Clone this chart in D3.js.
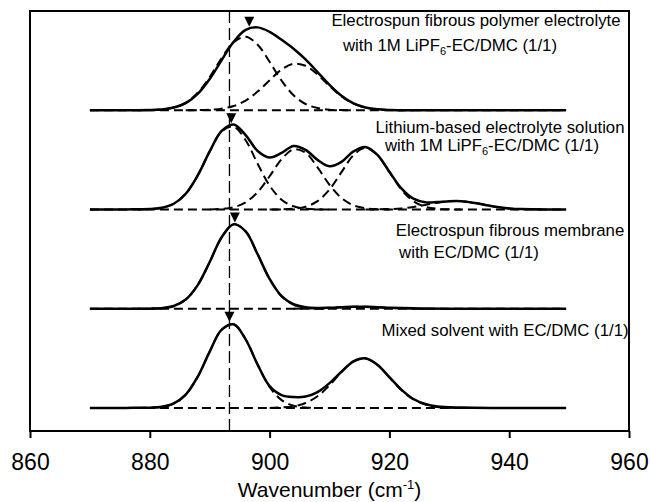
<!DOCTYPE html>
<html>
<head>
<meta charset="utf-8">
<script src="https://cdn.jsdelivr.net/npm/d3@7/dist/d3.min.js"></script>
<style>
  body { margin: 0; background: #fff; }
  svg { display: block; font-family: "Liberation Sans", Arial, sans-serif; }
</style>
</head>
<body>
<svg id="chart"></svg>
<script>
// x ticks and the shared wavenumber span of every trace
const xTicks = [860, 880, 900, 920, 940, 960];
const baseRange = [870, 949.5];
const refLine = 893.3;

// Top: electrospun fibrous polymer electrolyte, [wavenumber, intensity]
const polymerSolid = [[870,0],[876,0],[880,0.002],[882,0.008],[884,0.027],[886,0.072],[888,0.165],[890,0.315],[892,0.505],[894,0.690],[896,0.810],[898,0.835],[900,0.790],[902,0.710],[904,0.620],[906,0.512],[908,0.385],[910,0.255],[912,0.145],[914,0.068],[916,0.028],[918,0.009],[920,0.003],[924,0],[949.5,0]];
const polymerFitA = [[878,0],[880,0.002],[882,0.008],[884,0.028],[886,0.076],[888,0.176],[890,0.334],[892,0.526],[894,0.685],[896,0.740],[898,0.660],[900,0.488],[902,0.298],[904,0.151],[906,0.063],[908,0.022],[910,0.006],[912,0.002],[914,0]];
const polymerFitB = [[886,0],[890,0.005],[892,0.016],[894,0.043],[896,0.098],[898,0.188],[900,0.303],[902,0.410],[904,0.468],[906,0.448],[908,0.360],[910,0.244],[912,0.139],[914,0.066],[916,0.027],[918,0.009],[920,0.003],[924,0]];

// Lithium-based electrolyte solution
const liquidSolid = [[870,0],[876,0.001],[880,0.004],[882,0.017],[884,0.058],[886,0.159],[888,0.343],[890,0.585],[892,0.792],[894,0.857],[896,0.750],[898,0.590],[900,0.525],[902,0.570],[904,0.640],[906,0.600],[908,0.500],[910,0.435],[912,0.480],[914,0.585],[916,0.630],[918,0.550],[920,0.380],[922,0.212],[924,0.109],[926,0.073],[928,0.075],[930,0.083],[932,0.083],[934,0.068],[936,0.046],[938,0.025],[940,0.011],[942,0.004],[946,0],[949.5,0]];
const liquidFitA = [[878,0],[880,0.004],[882,0.017],[884,0.058],[886,0.159],[888,0.343],[890,0.585],[892,0.786],[894,0.834],[896,0.698],[898,0.461],[900,0.241],[902,0.099],[904,0.032],[906,0.008],[908,0.002],[910,0]];
const liquidFitB = [[890,0],[892,0.006],[894,0.023],[896,0.072],[898,0.175],[900,0.335],[902,0.507],[904,0.606],[906,0.571],[908,0.425],[910,0.249],[912,0.115],[914,0.042],[916,0.012],[918,0.003],[920,0]];
const liquidFitC = [[900,0],[904,0.007],[906,0.027],[908,0.084],[910,0.201],[912,0.376],[914,0.547],[916,0.620],[918,0.547],[920,0.376],[922,0.201],[924,0.084],[926,0.027],[928,0.007],[932,0]];
const liquidFitD = [[916,0],[920,0.004],[922,0.011],[924,0.025],[926,0.046],[928,0.068],[930,0.083],[932,0.083],[934,0.068],[936,0.046],[938,0.025],[940,0.011],[942,0.004],[946,0]];

// Electrospun fibrous membrane with EC/DMC
const membraneSolid = [[870,0],[876,0],[880,0.001],[882,0.006],[884,0.028],[886,0.093],[888,0.238],[890,0.471],[892,0.721],[894,0.852],[896,0.779],[898,0.549],[900,0.300],[902,0.126],[904,0.045],[906,0.015],[908,0.008],[910,0.010],[912,0.015],[914,0.020],[916,0.020],[918,0.015],[920,0.010],[924,0.004],[930,0],[949.5,0]];
const membraneFitA = [[878,0],[880,0.001],[882,0.006],[884,0.028],[886,0.093],[888,0.238],[890,0.471],[892,0.721],[894,0.852],[896,0.779],[898,0.549],[900,0.300],[902,0.126],[904,0.041],[906,0.010],[908,0.002],[910,0]];
const membraneFitB = [[904,0],[908,0.004],[910,0.009],[912,0.015],[914,0.019],[916,0.019],[918,0.015],[920,0.009],[922,0.004],[926,0]];

// Mixed solvent with EC/DMC
const solventSolid = [[870,0],[876,0.001],[880,0.003],[882,0.012],[884,0.046],[886,0.135],[888,0.315],[890,0.568],[892,0.789],[894,0.843],[896,0.692],[898,0.437],[900,0.220],[902,0.130],[904,0.110],[906,0.115],[908,0.160],[910,0.250],[912,0.365],[914,0.470],[916,0.500],[918,0.435],[920,0.310],[922,0.185],[924,0.090],[926,0.040],[928,0.015],[932,0.004],[938,0],[949.5,0]];
const solventFitA = [[878,0],[880,0.002],[882,0.011],[884,0.044],[886,0.134],[888,0.314],[890,0.568],[892,0.789],[894,0.843],[896,0.692],[898,0.437],[900,0.212],[902,0.079],[904,0.023],[906,0.005],[908,0]];
const solventFitB = [[900,0],[904,0.017],[906,0.050],[908,0.118],[910,0.228],[912,0.362],[914,0.469],[916,0.498],[918,0.433],[920,0.308],[922,0.180],[924,0.086],[926,0.034],[928,0.011],[930,0.003],[934,0]];

// peak markers (wavenumber, height of the peak top)
const markWn = [896.6, 893.6, 894.2, 893.3];
const markTop = [0.83, 0.86, 0.86, 0.86];

// label lines, "_n" marks a subscript
const labelLines = [
  ["Electrospun fibrous polymer electrolyte", "with 1M LiPF_6-EC/DMC (1/1)"],
  ["Lithium-based electrolyte solution", "with 1M LiPF_6-EC/DMC (1/1)"],
  ["Electrospun fibrous membrane", "with EC/DMC (1/1)"],
  ["Mixed solvent with EC/DMC (1/1)"]
];

const spectra = [
  {solid: polymerSolid, fits: [polymerFitA, polymerFitB]},
  {solid: liquidSolid, fits: [liquidFitA, liquidFitB, liquidFitC, liquidFitD]},
  {solid: membraneSolid, fits: [membraneFitA, membraneFitB]},
  {solid: solventSolid, fits: [solventFitA, solventFitB]}
];

class SpectraChart {
  constructor(_config) {
    this.config = {
      parentElement: _config.parentElement,
      containerWidth: _config.containerWidth || 651,
      containerHeight: _config.containerHeight || 502,
      margin: _config.margin || {top: 11, right: 22, bottom: 71, left: 30},
      offsets: [3, 2, 1, 0],
      // label anchors: centre x of each line, baseline y of each line
      labelPos: [
        {x: [476, 450], y: [26, 51]},
        {x: [500, 492], y: [133, 151]},
        {x: [510, 469], y: [236, 258]},
        {x: [505], y: [336]}
      ]
    };
    this.initVis();
  }

  initVis() {
    let vis = this;
    const c = vis.config;
    vis.width = c.containerWidth - c.margin.left - c.margin.right;
    vis.height = c.containerHeight - c.margin.top - c.margin.bottom;

    vis.xScale = d3.scaleLinear().domain([860, 960]).range([0, vis.width]);
    vis.yScale = d3.scaleLinear().domain([-0.232, 4]).range([vis.height, 0]);

    vis.xAxis = d3.axisBottom(vis.xScale)
        .tickValues(xTicks)
        .tickSize(7)
        .tickSizeOuter(0)
        .tickPadding(16)
        .tickFormat(d3.format('d'));

    vis.svg = d3.select(c.parentElement)
        .attr('width', c.containerWidth)
        .attr('height', c.containerHeight);

    vis.chart = vis.svg.append('g')
        .attr('transform', `translate(${c.margin.left},${c.margin.top})`);

    vis.xAxisG = vis.chart.append('g')
        .attr('class', 'axis x-axis')
        .attr('transform', `translate(0,${vis.height})`);

    vis.svg.append('text')
        .attr('x', c.margin.left + vis.width / 2)
        .attr('y', 497)
        .style('text-anchor', 'middle')
        .style('font-size', '21px')
        .call(t => {
          t.append('tspan').text('Wavenumber (cm');
          t.append('tspan').attr('dy', -8).style('font-size', '13px').text('-1');
          t.append('tspan').attr('dy', 8).text(')');
        });
  }

  renderVis() {
    let vis = this;
    const c = vis.config;

    // vertical reference line
    vis.chart.append('line')
        .attr('x1', vis.xScale(refLine)).attr('x2', vis.xScale(refLine))
        .attr('y1', 0).attr('y2', vis.height)
        .attr('stroke', '#000')
        .attr('stroke-width', 1.3)
        .attr('stroke-dasharray', '12,5');

    spectra.forEach((s, i) => {
      const off = c.offsets[i];
      const line = d3.line()
          .x(d => vis.xScale(d[0]))
          .y(d => vis.yScale(d[1] + off))
          .curve(d3.curveCatmullRom.alpha(0.5));

      const g = vis.chart.append('g').attr('class', 'spectrum');

      // dashed baseline
      g.append('path')
          .datum(baseRange.map(w => [w, 0]))
          .attr('fill', 'none')
          .attr('stroke', '#000')
          .attr('stroke-width', 2)
          .attr('stroke-dasharray', '9,5')
          .attr('d', line);

      g.selectAll('.fit')
          .data(s.fits)
          .join('path')
          .attr('class', 'fit')
          .attr('fill', 'none')
          .attr('stroke', '#000')
          .attr('stroke-width', 2)
          .attr('stroke-dasharray', '9,5')
          .attr('d', line);

      g.append('path')
          .datum(s.solid)
          .attr('fill', 'none')
          .attr('stroke', '#000')
          .attr('stroke-width', 2.5)
          .attr('stroke-linejoin', 'round')
          .attr('d', line);

      // peak marker triangle
      const mx = vis.xScale(markWn[i]);
      const my = vis.yScale(markTop[i] + off) - 1;
      g.append('path')
          .attr('d', `M${mx - 5},${my - 10}L${mx + 5},${my - 10}L${mx},${my}Z`)
          .attr('fill', '#000');

      // labels
      const pos = c.labelPos[i];
      labelLines[i].forEach((txt, j) => {
        const t = vis.svg.append('text')
            .attr('x', pos.x[j])
            .attr('y', pos.y[j])
            .style('text-anchor', 'middle')
            .style('font-size', '16.8px');
        const parts = txt.split(/_(\d)/);
        parts.forEach((p, k) => {
          if (k % 2 === 1) {
            t.append('tspan').attr('dy', 4).style('font-size', '11px').text(p);
          } else if (k > 0) {
            t.append('tspan').attr('dy', -4).text(p);
          } else {
            t.append('tspan').text(p);
          }
        });
      });
    });

    // frame
    vis.chart.append('rect')
        .attr('width', vis.width)
        .attr('height', vis.height)
        .attr('fill', 'none')
        .attr('stroke', '#000')
        .attr('stroke-width', 2);

    vis.xAxisG.call(vis.xAxis);
    vis.xAxisG.select('.domain').remove();
    vis.xAxisG.selectAll('.tick line').attr('stroke-width', 2);
    vis.xAxisG.selectAll('.tick text')
        .style('font-size', '23px')
        .style('font-family', '"Liberation Sans", Arial, sans-serif')
        .attr('fill', '#000');
  }
}

const chart = new SpectraChart({parentElement: '#chart'});
chart.renderVis();
</script>
</body>
</html>
